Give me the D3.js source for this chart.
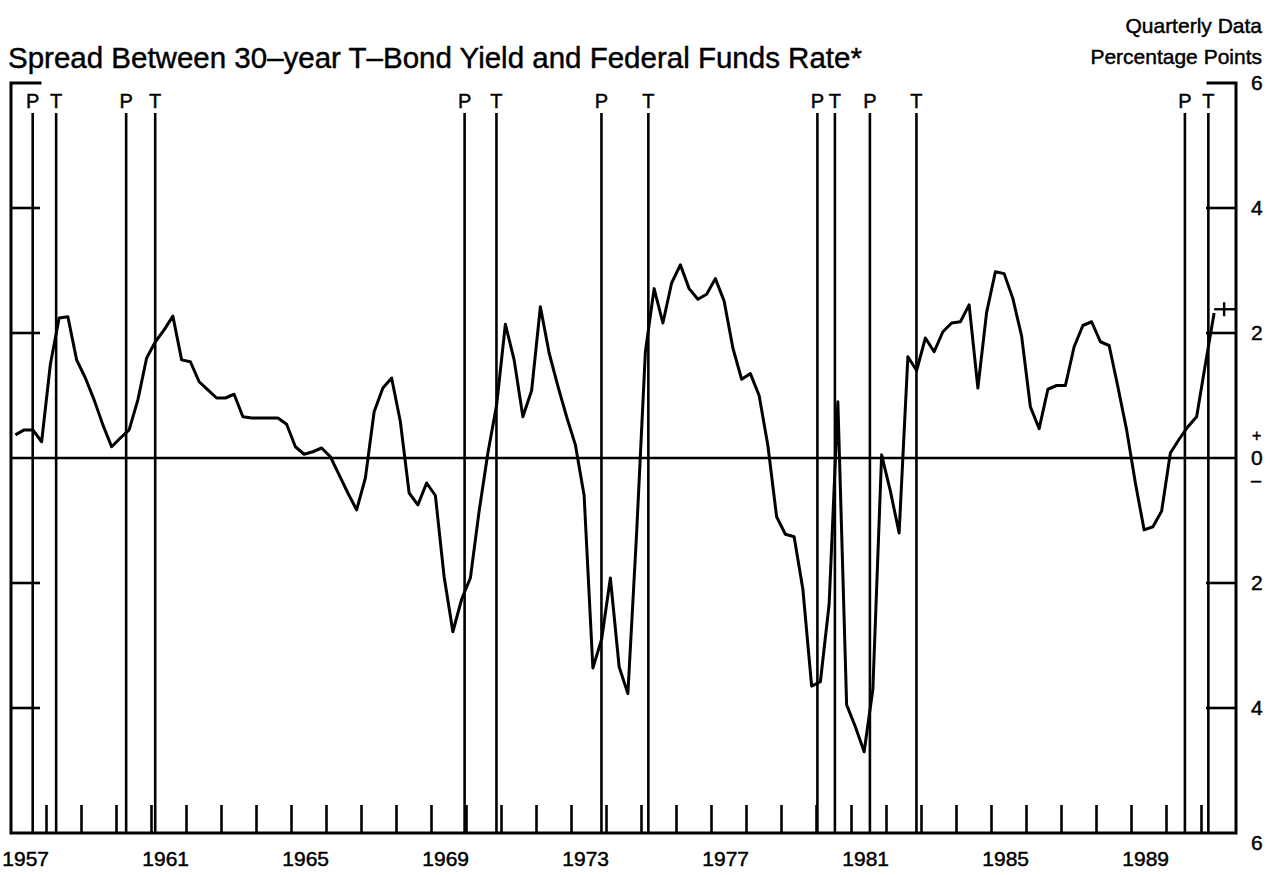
<!DOCTYPE html>
<html>
<head>
<meta charset="utf-8">
<script src="https://cdn.jsdelivr.net/npm/d3@7"></script>
<style>
  html, body { margin: 0; padding: 0; background: #fff; }
  svg { display: block; }
  text { font-family: "Liberation Sans", Arial, Helvetica, sans-serif; fill: #000; stroke: #000; stroke-width: 0.45px; }
</style>
</head>
<body>
<svg id="chart" width="1275" height="875"></svg>
<script>
// ---------------- DATA ----------------
const startYear = 1957;            // first quarter = 1957 Q1
// quarterly spread, percentage points (1957Q1 ... 1991Q2)
const spread = [
  0.37, 0.45, 0.45, 0.26,   // 1957
  1.50, 2.24, 2.26, 1.57,   // 1958
  1.28, 0.93, 0.53, 0.18,   // 1959
  0.32, 0.45, 0.93, 1.60,   // 1960
  1.86, 2.05, 2.27, 1.57,   // 1961
  1.54, 1.22, 1.09, 0.96,   // 1962
  0.96, 1.02, 0.66, 0.64,   // 1963
  0.64, 0.64, 0.64, 0.54,   // 1964
  0.18, 0.06, 0.10, 0.16,   // 1965
  0.02, -0.27, -0.56, -0.83,// 1966
  -0.32, 0.74, 1.12, 1.28,  // 1967
  0.58, -0.56, -0.75, -0.40,// 1968
  -0.60, -1.90, -2.78, -2.26,// 1969
  -1.92, -0.85, 0.08, 0.85, // 1970
  2.14, 1.57, 0.66, 1.08,   // 1971
  2.42, 1.68, 1.15, 0.66,   // 1972
  0.21, -0.60, -3.36, -2.90,// 1973
  -1.92, -3.34, -3.77, -1.20,// 1974
  1.70, 2.71, 2.16, 2.80,   // 1975
  3.09, 2.71, 2.54, 2.62,   // 1976
  2.87, 2.51, 1.76, 1.26,   // 1977
  1.35, 1.00, 0.20, -0.94,  // 1978
  -1.22, -1.26, -2.10, -3.65,// 1979
  -3.58, -2.34, 0.90, -3.95,// 1980
  -4.30, -4.70, -3.70, 0.05,// 1981
  -0.53, -1.20, 1.62, 1.40, // 1982
  1.92, 1.70, 2.02, 2.16,   // 1983
  2.18, 2.45, 1.12, 2.33,   // 1984
  2.98, 2.95, 2.55, 1.95,   // 1985
  0.82, 0.47, 1.10, 1.16,   // 1986
  1.16, 1.78, 2.12, 2.18,   // 1987
  1.86, 1.80, 1.14, 0.45,   // 1988
  -0.40, -1.15, -1.10, -0.85,// 1989
  0.08, 0.30, 0.50, 0.66,   // 1990
  1.50, 2.32                // 1991
];
const latestValue = 2.38;   // preliminary reading marked with "+"

// business-cycle peaks (P) and troughs (T)
const cycleDates  = [1957.62, 1958.29, 1960.29, 1961.12, 1969.96, 1970.87, 1973.87,
                     1975.21, 1980.04, 1980.54, 1981.54, 1982.87, 1990.54, 1991.21];
const cycleLabels = ["P", "T", "P", "T", "P", "T", "P", "T", "P", "T", "P", "T", "P", "T"];

const yearLabels = [1957, 1961, 1965, 1969, 1973, 1977, 1981, 1985, 1989];
const yTicks     = [-6, -4, -2, 0, 2, 4, 6];
const yTickText  = ["6", "4", "2", "0", "2", "4", "6"];

const titleText  = "Spread Between 30\u2013year T\u2013Bond Yield and Federal Funds Rate*";
const noteTop    = "Quarterly Data";
const noteUnits  = "Percentage Points";

// ---------------- LAYOUT ----------------
const svg = d3.select("#chart");
const padL = 11, padR = 1236, padT = 83, padB = 833;

const x = d3.scaleLinear().domain([1957, 1992]).range([padL, padR]);
const y = d3.scaleLinear().domain([-6, 6]).range([padB, padT]);

const points = spread.map((v, i) => ({ t: startYear + (i + 0.5) / 4, v }));

// frame
const frame = svg.append("g").attr("stroke", "#000").attr("fill", "none")
  .attr("stroke-width", 3).attr("stroke-linecap", "square");
frame.append("path").attr("d", `M${padL + 29},${y(6)}H${padL}V${padB}H${padR}V${y(6)}H${padR - 28}`);

// zero line
svg.append("line").attr("x1", padL).attr("x2", padR)
  .attr("y1", y(0)).attr("y2", y(0))
  .attr("stroke", "#000").attr("stroke-width", 2.6);

// y ticks (both sides, inward)
const tickVals = yTicks.filter(v => v !== 0 && Math.abs(v) !== 6);
svg.append("g").selectAll("line").data(tickVals).join("line")
  .attr("x1", padL).attr("x2", padL + 29)
  .attr("y1", d => y(d)).attr("y2", d => y(d))
  .attr("stroke", "#000").attr("stroke-width", 2.6);
svg.append("g").selectAll("line").data(tickVals).join("line")
  .attr("x1", padR - 30).attr("x2", padR)
  .attr("y1", d => y(d)).attr("y2", d => y(d))
  .attr("stroke", "#000").attr("stroke-width", 2.6);

// x axis ticks: each year start, inward
const xAxis = d3.axisBottom(x)
  .tickValues(d3.range(1958, 1992))
  .tickSize(-28)
  .tickFormat("");
const gx = svg.append("g").attr("transform", `translate(0,${padB})`).call(xAxis);
gx.select(".domain").remove();
gx.selectAll(".tick line").attr("stroke", "#000").attr("stroke-width", 2.6);

// year labels
svg.append("g").selectAll("text").data(yearLabels).join("text")
  .attr("x", d => x(d + 0.42))
  .attr("y", 866)
  .attr("text-anchor", "middle")
  .attr("font-size", 21)
  .text(d => d);

// right axis labels
svg.append("g").selectAll("text").data(yTicks).join("text")
  .attr("x", 1251)
  .attr("y", d => y(d) + (d === -6 ? 10 : 0))
  .attr("dy", "0.35em")
  .attr("font-size", 21)
  .text((d, i) => yTickText[i]);
svg.append("text").attr("x", 1252).attr("y", y(0) - 23).attr("dy", "0.35em")
  .attr("font-size", 16).text("+");
svg.append("text").attr("x", 1251).attr("y", y(0) + 22).attr("dy", "0.35em")
  .attr("font-size", 18).text("\u2013");

// recession lines
svg.append("g").selectAll("line").data(cycleDates).join("line")
  .attr("x1", d => x(d)).attr("x2", d => x(d))
  .attr("y1", 113).attr("y2", padB)
  .attr("stroke", "#000").attr("stroke-width", 2.6);
svg.append("g").selectAll("text").data(cycleDates).join("text")
  .attr("x", d => x(d))
  .attr("y", 108)
  .attr("text-anchor", "middle")
  .attr("font-size", 20)
  .text((d, i) => cycleLabels[i]);

// data line
const line = d3.line().x(d => x(d.t)).y(d => y(d.v));
svg.append("path").datum(points)
  .attr("d", line)
  .attr("fill", "none")
  .attr("stroke", "#000")
  .attr("stroke-width", 3)
  .attr("stroke-linejoin", "round");

// latest preliminary marker
const last = points[points.length - 1];
svg.append("line")
  .attr("x1", x(last.t)).attr("x2", padR)
  .attr("y1", y(latestValue)).attr("y2", y(latestValue))
  .attr("stroke", "#000").attr("stroke-width", 2.4);
svg.append("line")
  .attr("x1", x(last.t) + 10).attr("x2", x(last.t) + 10)
  .attr("y1", y(latestValue) - 7).attr("y2", y(latestValue) + 7)
  .attr("stroke", "#000").attr("stroke-width", 2.4);

// titles
svg.append("text").attr("x", 8).attr("y", 68)
  .attr("font-size", 29.5).text(titleText);
svg.append("text").attr("x", 1262).attr("y", 33)
  .attr("text-anchor", "end").attr("font-size", 21).text(noteTop);
svg.append("text").attr("x", 1262).attr("y", 64)
  .attr("text-anchor", "end").attr("font-size", 21).text(noteUnits);
</script>
</body>
</html>
